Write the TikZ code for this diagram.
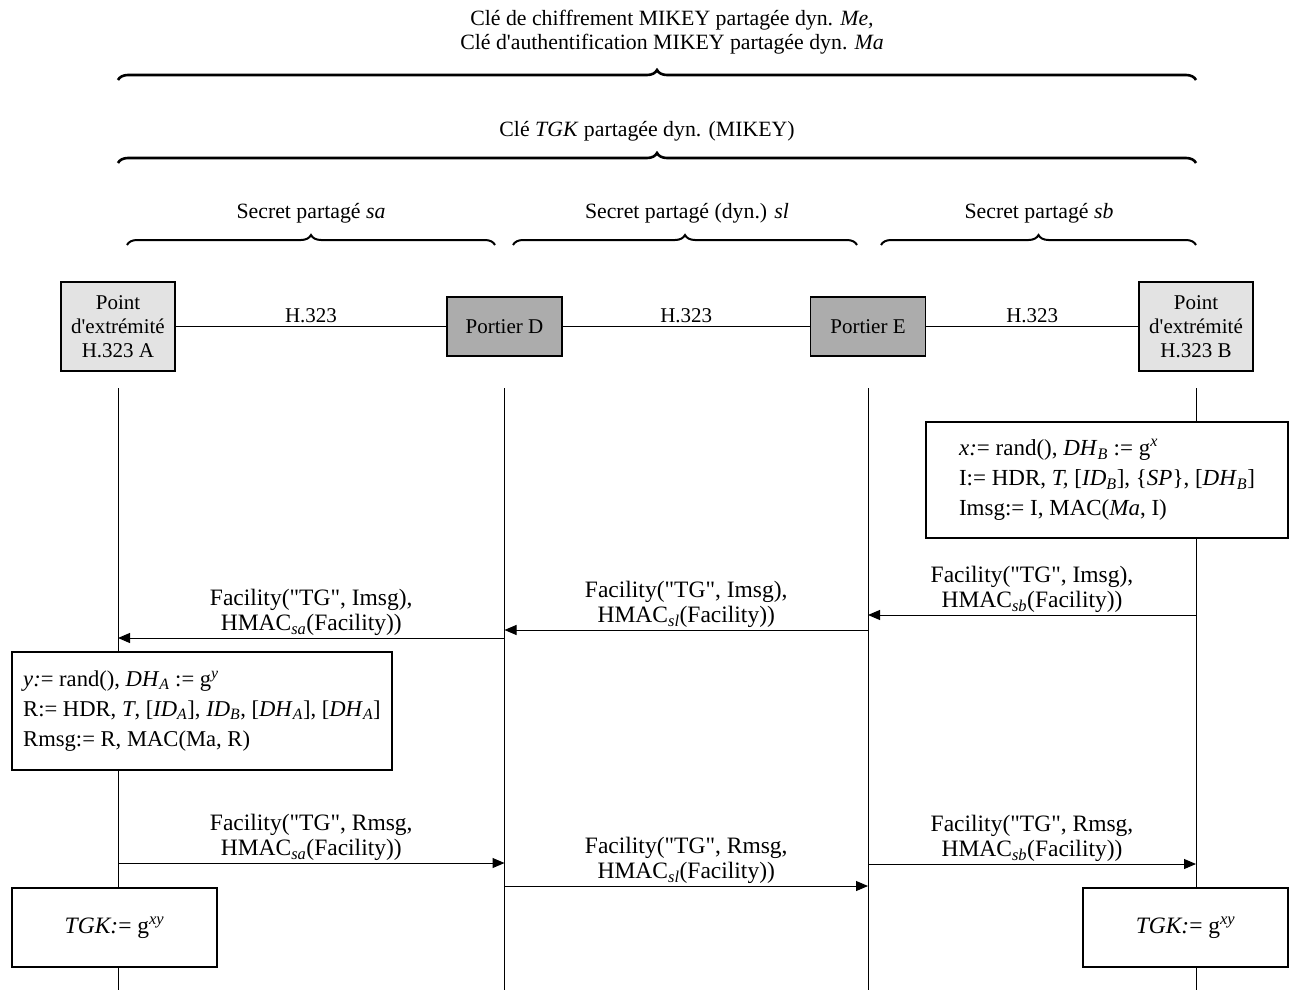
\documentclass[tikz,border=0pt]{standalone}
\usepackage{fontspec}
\setmainfont{Liberation Serif}
\usetikzlibrary{arrows.meta,decorations.pathreplacing}
\newcommand\isub[1]{\textsubscript{\textit{#1}}}
\newcommand\isup[1]{\textsuperscript{\textit{#1}}}
\newcommand\dq{\textquotedbl}
\begin{document}
\begin{tikzpicture}[x=1pt,y=-1pt,
  every node/.style={font=\fontsize{23.5}{24.5}\selectfont},
  party/.style={draw, line width=1.1pt, fill=gray!22, minimum width=114pt,
    minimum height=89pt, inner sep=0pt, align=center,
    font=\fontsize{21}{24}\selectfont},
  keeper/.style={draw, line width=1.1pt, fill=gray!65, minimum width=115pt,
    minimum height=59pt, inner sep=0pt, font=\fontsize{21}{24}\selectfont},
  link/.style={line width=1pt},
  linklabel/.style={above, inner sep=3pt, font=\fontsize{21}{24}\selectfont},
  life/.style={line width=1pt},
  msg/.style={line width=1pt, -{Triangle[length=12pt,width=10pt]}},
  msglabel/.style={above, inner sep=2pt, align=center},
  calcbox/.style={draw, fill=white, line width=1.1pt, align=left,
    inner sep=2pt, font=\fontsize{23}{30}\selectfont},
  keybox/.style={draw, fill=white, line width=1.1pt, minimum width=205pt,
    minimum height=79pt, font=\fontsize{23.5}{25}\selectfont},
  bigbrace/.style={decorate, decoration={brace, amplitude=10pt}, line width=2.6pt},
  smallbrace/.style={decorate, decoration={brace, amplitude=10pt}, line width=2pt},
  bracelabel/.style={font=\fontsize{21.8}{24}\selectfont, align=center}
]
\useasboundingbox (0,0) rectangle (1292,996);

% key hierarchy braces
\node[bracelabel] (kMe) at (672,32) {Clé de chiffrement MIKEY partagée dyn. \textit{Me,}\\
  Clé d\textquotesingle authentification MIKEY partagée dyn. \textit{Ma}};
\coordinate (br1l) at (118,80);
\coordinate (br1r) at (1196,80);
\draw[bigbrace] (br1l) -- (br1r);

\node[bracelabel] (kTGK) at (647,131) {Clé \textit{TGK} partagée dyn. (MIKEY)};
\coordinate (br2l) at (118,163);
\coordinate (br2r) at (1196,163);
\draw[bigbrace] (br2l) -- (br2r);

\node[bracelabel] (ksa) at (311,213) {Secret partagé \textit{sa}};
\node[bracelabel] (ksl) at (687,213) {Secret partagé (dyn.) \textit{sl}};
\node[bracelabel] (ksb) at (1039,213) {Secret partagé \textit{sb}};
\coordinate (bsal) at (127,245);
\coordinate (bsar) at (495,245);
\coordinate (bsll) at (513,245);
\coordinate (bslr) at (857,245);
\coordinate (bsbl) at (881,245);
\coordinate (bsbr) at (1196,245);
\draw[smallbrace] (bsal) -- (bsar);
\draw[smallbrace] (bsll) -- (bslr);
\draw[smallbrace] (bsbl) -- (bsbr);

% entities
\node[party] (A) at (118,326.5) {Point\\d\textquotesingle extrémité\\H.323 A};
\node[keeper] (D) at (504.5,326.5) {Portier D};
\node[keeper] (E) at (868,326.5) {Portier E};
\node[party] (B) at (1196,326.5) {Point\\d\textquotesingle extrémité\\H.323 B};

\draw[link] (A) -- (D) node[midway, linklabel] {H.323};
\draw[link] (D) -- (E) node[midway, linklabel] {H.323};
\draw[link] (E) -- (B) node[midway, linklabel] {H.323};

% lifelines
\coordinate (lA) at (118,388);
\coordinate (lD) at (504.5,388);
\coordinate (lE) at (868,388);
\coordinate (lB) at (1196,388);
\coordinate (eA) at (118,990);
\coordinate (eD) at (504.5,990);
\coordinate (eE) at (868,990);
\coordinate (eB) at (1196,990);
\draw[life] (lA) -- (eA);
\draw[life] (lD) -- (eD);
\draw[life] (lE) -- (eE);
\draw[life] (lB) -- (eB);

% computation at B
\node[calcbox, minimum width=362pt, minimum height=116pt] (cB) at (1107,480)
  {\textit{x:}= rand(), \textit{DH}\isub{B} := g\isup{x}\\
   I:= HDR, \textit{T,} [\textit{ID}\isub{B}], \{\textit{SP}\}, [\textit{DH}\isub{B}]\\
   Imsg:= I, MAC(\textit{Ma}, I)};

% request messages B -> A
\coordinate (m1B) at (1196,615);
\coordinate (m1E) at (868,615);
\coordinate (m2E) at (868,630);
\coordinate (m2D) at (504.5,630);
\coordinate (m3D) at (504.5,638);
\coordinate (m3A) at (118,638);
\draw[msg] (m1B) -- (m1E) node[midway, msglabel]
  {Facility(\dq TG\dq, Imsg),\\HMAC\isub{sb}(Facility))};
\draw[msg] (m2E) -- (m2D) node[midway, msglabel]
  {Facility(\dq TG\dq, Imsg),\\HMAC\isub{sl}(Facility))};
\draw[msg] (m3D) -- (m3A) node[midway, msglabel]
  {Facility(\dq TG\dq, Imsg),\\HMAC\isub{sa}(Facility))};

% computation at A
\node[calcbox, minimum width=380pt, minimum height=118pt,
  font=\fontsize{22.6}{30}\selectfont] (cA) at (202,711)
  {\textit{y:}= rand(), \textit{DH}\isub{A} := g\isup{y}\\
   R:= HDR, \textit{T}, [\textit{ID}\isub{A}], \textit{ID}\isub{B}, [\textit{DH}\isub{A}], [\textit{DH}\isub{A}]\\
   Rmsg:= R, MAC(Ma, R)};

% response messages A -> B
\coordinate (m4A) at (118,863);
\coordinate (m4D) at (504.5,863);
\coordinate (m5D) at (504.5,886);
\coordinate (m5E) at (868,886);
\coordinate (m6E) at (868,864);
\coordinate (m6B) at (1196,864);
\draw[msg] (m4A) -- (m4D) node[midway, msglabel]
  {Facility(\dq TG\dq, Rmsg,\\HMAC\isub{sa}(Facility))};
\draw[msg] (m5D) -- (m5E) node[midway, msglabel]
  {Facility(\dq TG\dq, Rmsg,\\HMAC\isub{sl}(Facility))};
\draw[msg] (m6E) -- (m6B) node[midway, msglabel]
  {Facility(\dq TG\dq, Rmsg,\\HMAC\isub{sb}(Facility))};

% resulting keys
\node[keybox] (tA) at (114.5,927.5) {\textit{TGK:}= g\isup{xy}};
\node[keybox] (tB) at (1185.5,927.5) {\textit{TGK:}= g\isup{xy}};
\end{tikzpicture}
\end{document}
